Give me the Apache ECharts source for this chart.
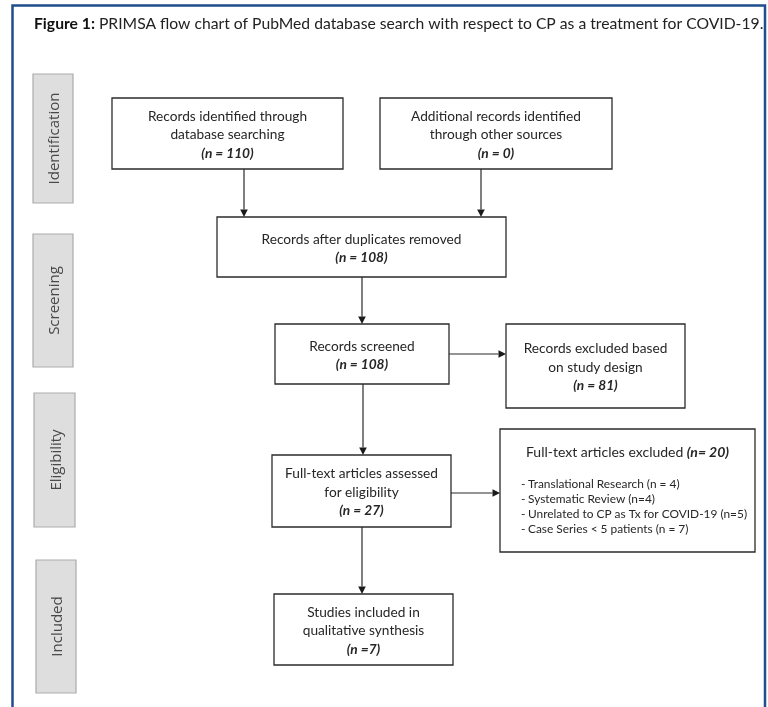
<!DOCTYPE html>
<html><head><meta charset="utf-8">
<script src="https://cdn.jsdelivr.net/npm/echarts@6/dist/echarts.min.js"></script>
<style>html,body{margin:0;padding:0;background:#fff}#c{width:768px;height:707px}</style>
</head><body><div id="c"></div>
<script>
// ---------- content ----------
const titleBold = 'Figure 1:';
const titleText = 'PRIMSA flow chart of PubMed database search with respect to CP as a treatment for COVID-19.';
const stageNames = ['Identification', 'Screening', 'Eligibility', 'Included'];
const boxTexts = [
  ['Records identified through', 'database searching'],
  ['Additional records identified', 'through other sources'],
  ['Records after duplicates removed'],
  ['Records screened'],
  ['Records excluded based', 'on study design'],
  ['Full-text articles assessed', 'for eligibility'],
  ['Studies included in', 'qualitative synthesis']
];
const boxCounts = ['(n = 110)', '(n = 0)', '(n = 108)', '(n = 108)', '(n = 81)', '(n = 27)', '(n =7)'];
const exclusionTitle = 'Full-text articles excluded';
const exclusionCount = '(n= 20)';
const exclusionReasons = [
  'Translational Research (n = 4)',
  'Systematic Review (n=4)',
  'Unrelated to CP as Tx for COVID-19 (n=5)',
  'Case Series < 5 patients (n = 7)'
];

// ---------- layout (pixel space of the 768x707 canvas) ----------
const LAYOUT = {
  stages: [[33, 74, 73, 203], [33, 234, 73, 367], [34, 393, 75, 527], [36, 560, 76, 693]],
  boxes: [[112, 98, 343, 169], [380, 98, 612, 169], [217, 217, 506, 277], [275, 324, 449, 384],
          [506, 324, 685, 408], [272, 455, 451, 527], [274, 594, 453, 665]],
  exclBox: [500, 429, 755, 552],
  arrows: [[244, 169, 244, 217], [481, 169, 481, 217], [362, 277, 362, 324], [449, 354, 506, 354],
           [363, 384, 363, 455], [451, 493, 500, 493], [362, 527, 362, 594]]
};

const FONT = 'Lato, "Open Sans", sans-serif';
const SIDE_FONT = '"Open Sans", "Noto Sans", sans-serif';
const TXT = '#262626';

const chart = echarts.init(document.getElementById('c'), null, { renderer: 'canvas' });

function rectOf(api) {
  const p0 = api.coord([api.value(0), api.value(1)]);
  const p1 = api.coord([api.value(2), api.value(3)]);
  return { x: Math.min(p0[0], p1[0]), y: Math.min(p0[1], p1[1]),
           width: Math.abs(p1[0] - p0[0]), height: Math.abs(p1[1] - p0[1]) };
}

const option = {
  animation: false,
  title: {
    text: '{b|' + titleBold + '} ' + titleText,
    left: 34, top: 15, padding: 0,
    textStyle: { fontFamily: FONT, fontSize: 15.7, fontWeight: 'normal', color: '#222', lineHeight: 18,
      rich: { b: { fontFamily: FONT, fontSize: 15.7, fontWeight: 'bold', color: '#111', lineHeight: 18 } } }
  },
  grid: { left: 0, right: 0, top: 0, bottom: 0 },
  xAxis: { type: 'value', min: 0, max: 768, show: false },
  yAxis: { type: 'value', min: 0, max: 707, inverse: true, show: false },
  graphic: [{
    type: 'polyline', silent: true,
    shape: { points: [[12.5, 707], [12.5, 5.5], [765, 5.5], [765, 707]] },
    style: { stroke: '#1f4e8c', lineWidth: 2.5, fill: null }
  }],
  series: [
    {
      type: 'custom', name: 'stages', coordinateSystem: 'cartesian2d',
      encode: { x: [0, 2], y: [1, 3] },
      data: LAYOUT.stages,
      renderItem(params, api) {
        const r = rectOf(api);
        return { type: 'group', children: [
          { type: 'rect', shape: r, style: { fill: '#dfdede', stroke: '#ababab', lineWidth: 1.2 } },
          { type: 'text', x: r.x + r.width / 2 + 2, y: r.y + r.height / 2, rotation: Math.PI / 2,
            style: { text: stageNames[params.dataIndex], align: 'center', verticalAlign: 'middle',
                     font: '15px ' + SIDE_FONT, fill: '#484848' } }
        ] };
      }
    },
    {
      type: 'custom', name: 'boxes', coordinateSystem: 'cartesian2d',
      encode: { x: [0, 2], y: [1, 3] },
      data: LAYOUT.boxes,
      renderItem(params, api) {
        const i = params.dataIndex;
        const r = rectOf(api);
        const lines = boxTexts[i].concat([boxCounts[i]]);
        const cx = r.x + r.width / 2, cy = r.y + r.height / 2 + 1.5, lh = 18.5;
        const children = [{ type: 'rect', shape: r, style: { fill: '#fff', stroke: '#2b2b2b', lineWidth: 1.3 } }];
        lines.forEach((t, k) => {
          const isCount = k === lines.length - 1;
          children.push({ type: 'text', x: cx, y: cy + (k - (lines.length - 1) / 2) * lh,
            style: { text: t, align: 'center', verticalAlign: 'middle', fill: TXT,
                     font: (isCount ? 'italic bold ' : '') + '13.7px ' + FONT } });
        });
        return { type: 'group', children };
      }
    },
    {
      type: 'custom', name: 'exclusions', coordinateSystem: 'cartesian2d',
      encode: { x: [0, 2], y: [1, 3] },
      data: [LAYOUT.exclBox],
      renderItem(params, api) {
        const r = rectOf(api);
        const children = [
          { type: 'rect', shape: r, style: { fill: '#fff', stroke: '#2b2b2b', lineWidth: 1.3 } },
          { type: 'text', x: r.x + r.width / 2, y: r.y + 23,
            style: { text: '{t|' + exclusionTitle + '} {n|' + exclusionCount + '}', align: 'center', verticalAlign: 'middle',
                     rich: { t: { font: '14px ' + FONT, fill: TXT }, n: { font: 'italic bold 14px ' + FONT, fill: TXT } } } }
        ];
        exclusionReasons.forEach((t, k) => {
          const y = r.y + 55 + k * 15;
          children.push({ type: 'text', x: r.x + 21, y, style: { text: '-', align: 'left', verticalAlign: 'middle', font: '11.9px ' + FONT, fill: TXT } });
          children.push({ type: 'text', x: r.x + 28, y, style: { text: t, align: 'left', verticalAlign: 'middle', font: '11.9px ' + FONT, fill: TXT } });
        });
        return { type: 'group', children };
      }
    },
    {
      type: 'custom', name: 'arrows', coordinateSystem: 'cartesian2d',
      encode: { x: [0, 2], y: [1, 3] },
      data: LAYOUT.arrows,
      renderItem(params, api) {
        const a = api.coord([api.value(0), api.value(1)]);
        const b = api.coord([api.value(2), api.value(3)]);
        const dx = b[0] - a[0], dy = b[1] - a[1], len = Math.hypot(dx, dy);
        const ux = dx / len, uy = dy / len, L = 7.5, Hw = 3.8;
        const bx = b[0] - ux * L, by = b[1] - uy * L;
        return { type: 'group', children: [
          { type: 'line', shape: { x1: a[0], y1: a[1], x2: bx, y2: by }, style: { stroke: '#2b2b2b', lineWidth: 1.2 } },
          { type: 'polygon', shape: { points: [[b[0], b[1]], [bx - uy * Hw, by + ux * Hw], [bx + uy * Hw, by - ux * Hw]] },
            style: { fill: '#1a1a1a' } }
        ] };
      }
    }
  ]
};
chart.setOption(option);
</script>
</body></html>
